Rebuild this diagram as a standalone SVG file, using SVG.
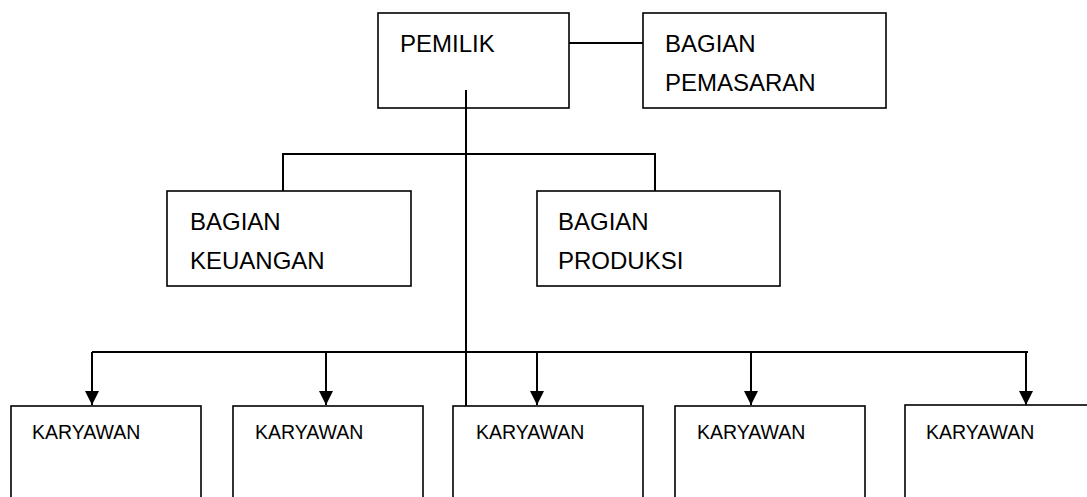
<svg xmlns="http://www.w3.org/2000/svg" width="1087" height="497" viewBox="0 0 1087 497">
  <style>
    .box { fill: #ffffff; stroke: #000000; stroke-width: 1.6; }
    .lbl { font-family: "Liberation Sans", Arial, sans-serif; font-size: 24px; fill: #000000; }
    .lbls { font-family: "Liberation Sans", Arial, sans-serif; font-size: 19.5px; fill: #000000; }
    .conn { fill: none; stroke: #000000; stroke-width: 2; }
  </style>
  <defs>
    <marker id="arrow" viewBox="0 0 14 14" refX="14" refY="7" markerWidth="14" markerHeight="14" markerUnits="userSpaceOnUse" orient="auto">
      <path d="M0,0 L14,7 L0,14 Z" fill="#000000"/>
    </marker>
  </defs>
  <rect x="0" y="0" width="1087" height="497" fill="#ffffff"/>

  <g id="pemilik">
    <rect class="box" x="378" y="13" width="191" height="95"/>
    <text class="lbl" x="400" y="52">PEMILIK</text>
  </g>

  <g id="pemasaran">
    <rect class="box" x="643" y="13" width="243" height="95"/>
    <text class="lbl" x="665" y="52">BAGIAN</text>
    <text class="lbl" x="665" y="91">PEMASARAN</text>
  </g>

  <g id="keuangan">
    <rect class="box" x="167" y="191" width="244" height="95"/>
    <text class="lbl" x="190" y="230">BAGIAN</text>
    <text class="lbl" x="190" y="269">KEUANGAN</text>
  </g>

  <g id="produksi">
    <rect class="box" x="537" y="191" width="243" height="95"/>
    <text class="lbl" x="558" y="230">BAGIAN</text>
    <text class="lbl" x="558" y="269">PRODUKSI</text>
  </g>

  <g id="karyawan1">
    <rect class="box" x="11" y="406" width="190" height="120"/>
    <text class="lbls" x="32" y="439">KARYAWAN</text>
  </g>
  <g id="karyawan2">
    <rect class="box" x="233" y="406" width="190" height="120"/>
    <text class="lbls" x="255" y="439">KARYAWAN</text>
  </g>
  <g id="karyawan3">
    <rect class="box" x="453" y="406" width="190" height="120"/>
    <text class="lbls" x="476" y="439">KARYAWAN</text>
  </g>
  <g id="karyawan4">
    <rect class="box" x="675" y="406" width="190" height="120"/>
    <text class="lbls" x="697" y="439">KARYAWAN</text>
  </g>
  <g id="karyawan5">
    <rect class="box" x="905" y="405" width="200" height="120"/>
    <text class="lbls" x="926" y="439">KARYAWAN</text>
  </g>

  <g id="connectors">
    <line class="conn" x1="569" y1="43" x2="643" y2="43"/>
    <line class="conn" x1="466" y1="90" x2="466" y2="406"/>
    <polyline class="conn" points="283,191 283,154 655,154 655,191"/>
    <line class="conn" x1="92" y1="352" x2="1028" y2="352"/>
    <line class="conn" x1="92" y1="352" x2="92" y2="405" marker-end="url(#arrow)"/>
    <line class="conn" x1="326" y1="352" x2="326" y2="405" marker-end="url(#arrow)"/>
    <line class="conn" x1="537" y1="352" x2="537" y2="405" marker-end="url(#arrow)"/>
    <line class="conn" x1="751" y1="352" x2="751" y2="405" marker-end="url(#arrow)"/>
    <line class="conn" x1="1026" y1="352" x2="1026" y2="405" marker-end="url(#arrow)"/>
  </g>
</svg>
